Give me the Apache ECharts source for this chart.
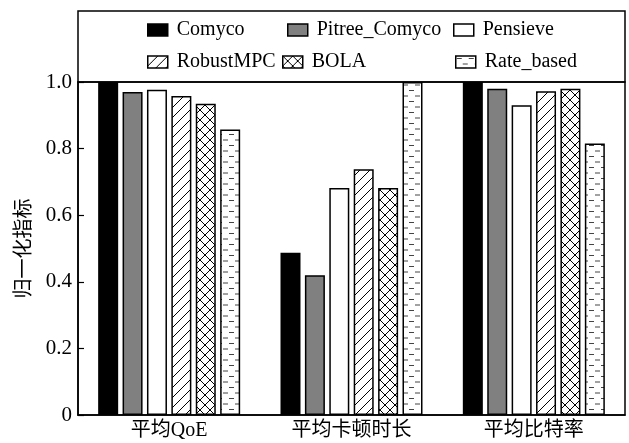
<!DOCTYPE html>
<html>
<head>
<meta charset="utf-8">
<script src="https://cdn.jsdelivr.net/npm/echarts@6/dist/echarts.min.js"></script>
<style>html,body{margin:0;padding:0;background:#fff}#c{width:629px;height:443px}</style>
</head>
<body>
<div id="c"></div>
<script>
const categories = ['平均QoE', '平均卡顿时长', '平均比特率'];
const seriesNames = ['Comyco', 'Pitree_Comyco', 'Pensieve', 'RobustMPC', 'BOLA', 'Rate_based'];
const comyco = [1.0, 0.487, 1.0];
const pitreeComyco = [0.970, 0.420, 0.980];
const pensieve = [0.977, 0.682, 0.930];
const robustMPC = [0.958, 0.738, 0.972];
const bola = [0.935, 0.682, 0.980];
const rateBased = [0.857, 1.0, 0.815];
const yTickLabels = ['0', '0.2', '0.4', '0.6', '0.8', '1.0'];

const FONT = '"Liberation Serif", "Noto Sans CJK SC", serif';

function makeCanvas(w, h, draw) {
  const c = document.createElement('canvas');
  c.width = w; c.height = h;
  const ctx = c.getContext('2d');
  ctx.fillStyle = '#fff';
  ctx.fillRect(0, 0, w, h);
  draw(ctx);
  return c;
}
const diagCanvas = makeCanvas(10, 10, ctx => {
  ctx.strokeStyle = '#000'; ctx.lineWidth = 1;
  ctx.beginPath();
  ctx.moveTo(-1, 11); ctx.lineTo(11, -1);
  ctx.moveTo(-1, 1); ctx.lineTo(1, -1);
  ctx.moveTo(9, 11); ctx.lineTo(11, 9);
  ctx.stroke();
});
const crossCanvas = makeCanvas(10, 10, ctx => {
  ctx.strokeStyle = '#000'; ctx.lineWidth = 1;
  ctx.beginPath();
  ctx.moveTo(-1, 11); ctx.lineTo(11, -1);
  ctx.moveTo(-1, -1); ctx.lineTo(11, 11);
  ctx.stroke();
});
const dashCanvas = makeCanvas(12, 11, ctx => {
  ctx.strokeStyle = '#444'; ctx.lineWidth = 1;
  ctx.beginPath();
  ctx.moveTo(1, 2.5); ctx.lineTo(6, 2.5);
  ctx.moveTo(7, 8); ctx.lineTo(12, 8);
  ctx.stroke();
});

const fills = [
  '#000',
  '#808080',
  '#fff',
  { image: diagCanvas, repeat: 'repeat' },
  { image: crossCanvas, repeat: 'repeat' },
  { image: dashCanvas, repeat: 'repeat' }
];
const dataArrays = [comyco, pitreeComyco, pensieve, robustMPC, bola, rateBased];

const legendPos = [
  [147, 20], [287, 20], [453, 20],
  [147, 52], [282, 52], [455, 52]
];

const option = {
  animation: false,
  backgroundColor: '#fff',
  textStyle: { fontFamily: FONT },
  grid: {
    left: 78, right: 4, top: 82, bottom: 28,
    show: true, borderColor: '#000', borderWidth: 1.5, backgroundColor: 'transparent'
  },
  legend: seriesNames.map((n, i) => ({
    data: [n],
    left: legendPos[i][0],
    top: legendPos[i][1],
    padding: 0,
    itemWidth: 20,
    itemHeight: 12,
    icon: 'rect',
    selectedMode: false,
    itemStyle: { borderColor: '#000', borderWidth: 1.5 },
    textStyle: { fontFamily: FONT, fontSize: 20, color: '#000', lineHeight: 20, padding: [0, 0, 0, 4] }
  })),
  graphic: [{
    type: 'rect',
    shape: { x: 78, y: 11, width: 547, height: 71 },
    style: { fill: 'none', stroke: '#000', lineWidth: 1.5 },
    silent: true
  }],
  xAxis: {
    type: 'category',
    data: categories,
    axisLine: { lineStyle: { color: '#000', width: 1.5 } },
    axisTick: { show: false },
    axisLabel: { fontFamily: FONT, fontSize: 20, color: '#000', margin: 6 },
    splitLine: { show: false }
  },
  yAxis: {
    type: 'value',
    min: 0, max: 1, interval: 0.2,
    name: '归一化指标',
    nameLocation: 'middle',
    nameGap: 42,
    nameTextStyle: { fontFamily: FONT, fontSize: 20, color: '#000' },
    axisLine: { show: true, lineStyle: { color: '#000', width: 1.5 } },
    axisTick: { show: true, inside: true, length: 6, lineStyle: { color: '#000', width: 1.2 } },
    axisLabel: {
      fontFamily: FONT, fontSize: 21, color: '#000', margin: 6,
      formatter: (v) => yTickLabels[Math.round(v / 0.2)]
    },
    splitLine: { show: false }
  },
  series: seriesNames.map((n, i) => ({
    name: n,
    type: 'bar',
    data: dataArrays[i],
    barWidth: 20,
    barGap: '22%',
    itemStyle: { color: fills[i], borderColor: '#000', borderWidth: 1.5 }
  }))
};

const chart = echarts.init(document.getElementById('c'), null, { renderer: 'canvas' });
chart.setOption(option);
</script>
</body>
</html>
